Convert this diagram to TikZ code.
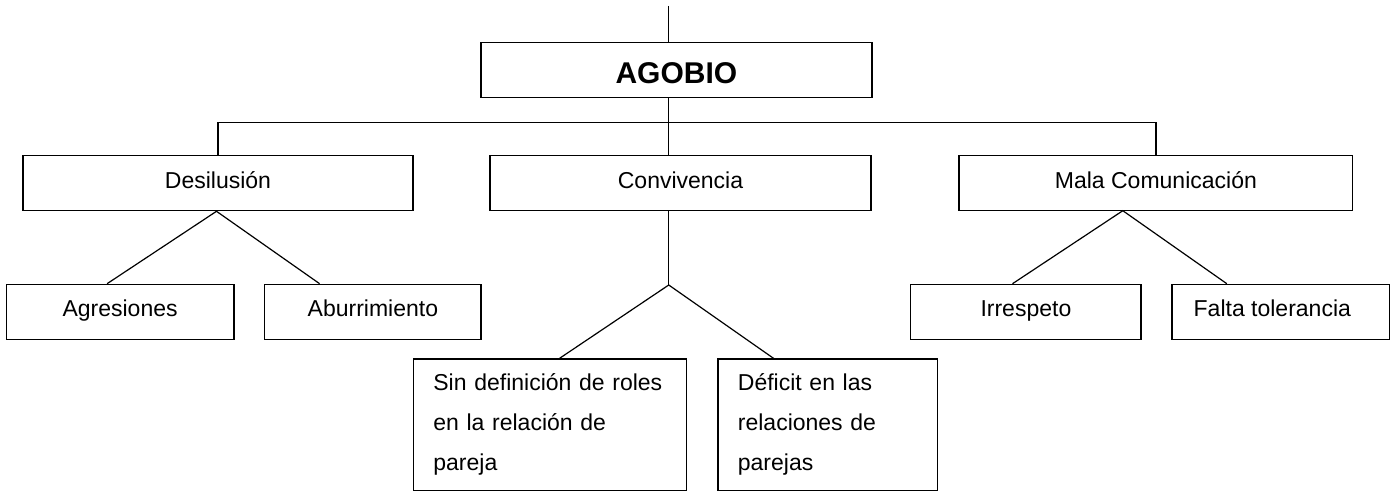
\documentclass[tikz,border=0pt]{standalone}
\usepackage{fontspec}
\setmainfont{Liberation Sans}
\begin{document}
\begin{tikzpicture}[x=1pt,y=-1pt,
  box/.style={draw,line width=1.2pt,inner sep=0pt,minimum height=55pt,text height=16pt,text depth=6pt,font=\fontsize{23}{27}\selectfont},
  bigbox/.style={draw,line width=1.2pt,inner sep=0pt,font=\fontsize{23}{40}\selectfont,align=left},
  conn/.style={line width=1.2pt}]
\useasboundingbox (0,0) rectangle (1394,492);
\node[box,minimum width=391pt,text height=26pt,text depth=0pt,font=\fontsize{30}{36}\selectfont\bfseries] (ag) at (676.4,70.2) {AGOBIO};
\node[box,minimum width=390pt] (des) at (218,183.2) {Desilusión};
\node[box,minimum width=381pt] (conv) at (680.5,183.2) {Convivencia};
\node[box,minimum width=393.7pt] (mala) at (1155.9,183.2) {Mala Comunicación};
\node[box,minimum width=227.8pt] (agr) at (120.1,311.8) {Agresiones};
\node[box,minimum width=216.3pt] (abu) at (372.9,311.8) {Aburrimiento};
\node[box,minimum width=230.3pt] (irr) at (1025.9,311.8) {Irrespeto};
\node[box,minimum width=217.8pt] (fal) at (1280.8,311.8) {\hspace*{-17pt}Falta tolerancia};
\node[bigbox,minimum width=273.2pt,minimum height=131.7pt,text width=233.2pt] (sin) at (550,424.9) {Sin definición de roles\\en la relación de\\pareja};
\node[bigbox,minimum width=219.6pt,minimum height=131.7pt,text width=179.6pt] (def) at (827.7,424.9) {Déficit en las\\relaciones de\\parejas};
\coordinate (topend) at (668.75,6);
\coordinate (bus) at (0,122.3);
\coordinate (capex) at (668.75,285);
\coordinate (mapex) at (1122.8,210.7);
\draw[conn] (topend) -- (topend |- ag.north);
\draw[conn] (topend |- ag.south) -- (topend |- conv.north);
\draw[conn] (des.north) |- (mala.north |- bus) -- (mala.north);
\draw[conn] ([xshift=-13pt]agr.north) -- ([xshift=-1.5pt]des.south) -- ([xshift=-53.3pt]abu.north);
\draw[conn] (topend |- conv.south) -- (capex);
\draw[conn] ([xshift=9.4pt]sin.north) -- (capex) -- ([xshift=-54pt]def.north);
\draw[conn] ([xshift=-13.4pt]irr.north) -- (mapex) -- ([xshift=-54pt]fal.north);
\end{tikzpicture}
\end{document}
